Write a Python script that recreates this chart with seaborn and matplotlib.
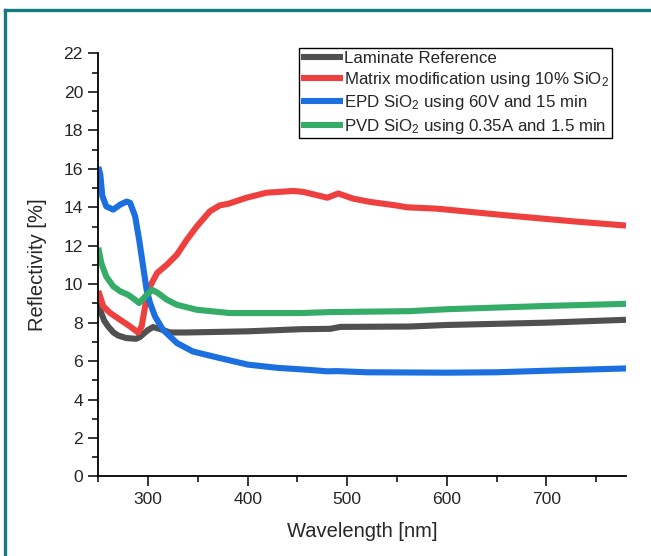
import matplotlib
matplotlib.use("Agg")
import matplotlib.pyplot as plt
from matplotlib.lines import Line2D
from matplotlib.ticker import MultipleLocator
import seaborn as sns
import pandas as pd

# ---- data ----
series_names = [
    "Laminate Reference",
    "Matrix modification using 10% SiO$_2$",
    "EPD SiO$_2$ using 60V and 15 min",
    "PVD SiO$_2$ using 0.35A and 1.5 min",
]
colors = ["#505050", "#EF4040", "#1C6FDF", "#35AD68"]

gray_wl = [250, 253, 256, 260, 265, 270, 278, 288, 292, 296, 300, 305, 312, 322, 339, 400, 453, 483, 493, 563, 600, 700, 780]
gray_val = [9.05, 8.5, 8.1, 7.8, 7.5, 7.33, 7.2, 7.16, 7.26, 7.45, 7.62, 7.77, 7.67, 7.49, 7.49, 7.55, 7.66, 7.68, 7.78, 7.8, 7.88, 8.0, 8.15]

red_wl = [250, 255, 262, 272, 282, 290, 293.5, 297, 302, 309, 319, 329, 339, 349, 362, 372, 381, 399, 419, 446, 456, 480, 491, 506, 523, 550, 560, 590, 624, 660, 727, 780]
red_val = [9.65, 8.85, 8.5, 8.15, 7.8, 7.49, 7.8, 8.85, 9.89, 10.58, 11.02, 11.54, 12.32, 13.01, 13.79, 14.1, 14.19, 14.5, 14.76, 14.85, 14.8, 14.5, 14.72, 14.45, 14.28, 14.09, 14.0, 13.93, 13.76, 13.58, 13.27, 13.05]

blue_wl = [250, 252, 254, 258, 265, 272, 278.5, 282, 287, 291, 295, 298.5, 302, 307, 315, 329, 345, 372, 400, 430, 460, 480, 490, 520, 600, 650, 700, 780]
blue_val = [16.1, 15.7, 14.6, 14.05, 13.88, 14.14, 14.3, 14.23, 13.53, 12.32, 10.93, 9.71, 9.02, 8.32, 7.63, 6.94, 6.5, 6.16, 5.82, 5.65, 5.55, 5.47, 5.48, 5.42, 5.4, 5.42, 5.5, 5.62]

green_wl = [250, 253, 258, 265, 272, 280, 287, 291, 297, 304, 310, 319, 329, 349, 382, 453, 483, 563, 600, 700, 780]
green_val = [11.9, 11.1, 10.4, 9.89, 9.63, 9.45, 9.19, 9.02, 9.36, 9.71, 9.54, 9.19, 8.93, 8.67, 8.5, 8.5, 8.55, 8.6, 8.7, 8.87, 8.98]

x_ticks = [300, 400, 500, 600, 700]
y_ticks = list(range(0, 23, 2))

# ---- build table ----
frames = []
for name, wl, val in zip(series_names,
                         [gray_wl, red_wl, blue_wl, green_wl],
                         [gray_val, red_val, blue_val, green_val]):
    frames.append(pd.DataFrame({"Wavelength": wl, "Reflectivity": val, "Sample": name}))
df = pd.concat(frames, ignore_index=True)

# ---- style ----
sns.set_style("ticks")
plt.rcParams["font.family"] = ["Liberation Sans", "DejaVu Sans"]
plt.rcParams["mathtext.fontset"] = "custom"
plt.rcParams["mathtext.rm"] = "Liberation Sans"
plt.rcParams["mathtext.it"] = "Liberation Sans:italic"
plt.rcParams["mathtext.bf"] = "Liberation Sans:bold"

fig = plt.figure(figsize=(6.51, 5.56), dpi=100)
ax = fig.add_axes([0.151, 0.143, 0.8106, 0.7608])

sns.lineplot(data=df, x="Wavelength", y="Reflectivity", hue="Sample",
             hue_order=series_names, palette=colors, linewidth=4.4,
             sort=False, estimator=None, ax=ax, legend=True)
for ln in ax.get_lines():
    ln.set_solid_capstyle("butt")
    ln.set_solid_joinstyle("round")

ax.set_xlim(250, 780)
ax.set_ylim(0, 22)
ax.set_xticks(x_ticks)
ax.set_yticks(y_ticks)
ax.xaxis.set_minor_locator(MultipleLocator(50))
ax.yaxis.set_minor_locator(MultipleLocator(1))
ax.tick_params(which="major", direction="out", length=7, width=1.1, labelsize=12.6, pad=4, color="black")
ax.tick_params(which="minor", direction="out", length=4, width=1.1, color="black")
for side in ["top", "right"]:
    ax.spines[side].set_visible(False)
for side in ["left", "bottom"]:
    ax.spines[side].set_linewidth(1.3)
    ax.spines[side].set_color("black")

ax.set_xlabel("Wavelength [nm]", fontsize=14.5, labelpad=11)
ax.set_ylabel("Reflectivity [%]", fontsize=14.5, labelpad=12)

handles, labels = ax.get_legend_handles_labels()
leg = ax.legend(handles, labels, loc="upper right",
                bbox_to_anchor=(612 / 651, (556 - 48) / 556),
                bbox_transform=fig.transFigure,
                fontsize=12.2, frameon=True, fancybox=False, framealpha=1,
                edgecolor="black", borderpad=0.15, handlelength=2.45,
                handletextpad=0.1, labelspacing=0.26, borderaxespad=0)
leg.get_frame().set_linewidth(1.0)
for lh in leg.get_lines():
    lh.set_linewidth(4.4)

# teal frame (top and left)
teal = "#137B80"
fig.add_artist(Line2D([5 / 651, 1.0], [(556 - 9.5) / 556] * 2, color=teal, linewidth=2.4,
                      transform=fig.transFigure, solid_capstyle="projecting"))
fig.add_artist(Line2D([5 / 651] * 2, [0.0, (556 - 9.5) / 556], color=teal, linewidth=2.4,
                      transform=fig.transFigure, solid_capstyle="projecting"))

fig.savefig("out.png", dpi=100)
